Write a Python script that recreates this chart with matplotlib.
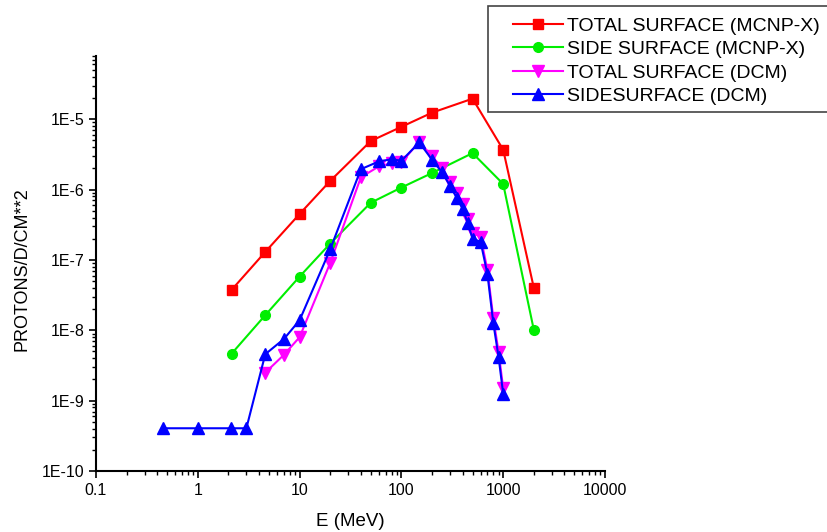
import matplotlib
matplotlib.use("Agg")
import matplotlib.pyplot as plt
from matplotlib.patches import Rectangle
from matplotlib.ticker import LogLocator, NullFormatter, FixedLocator, FixedFormatter

plt.rcParams['font.family'] = ['Liberation Sans', 'DejaVu Sans']

# TOTAL SURFACE (MCNP-X)
tot_mcnp_e = [2.15, 4.6, 10, 20, 50, 100, 200, 500, 1000, 2000]
tot_mcnp_v = [3.76e-8, 1.30e-7, 4.5e-7, 1.33e-6, 4.9e-6, 7.8e-6, 1.24e-5, 1.96e-5, 3.68e-6, 4.0e-8]

# SIDE SURFACE (MCNP-X)
side_mcnp_e = [2.15, 4.6, 10, 20, 50, 100, 200, 500, 1000, 2000]
side_mcnp_v = [4.66e-9, 1.64e-8, 5.8e-8, 1.71e-7, 6.5e-7, 1.07e-6, 1.72e-6, 3.3e-6, 1.2e-6, 1.01e-8]

# TOTAL SURFACE (DCM)
tot_dcm_e = [4.6, 7, 10, 20, 40, 60, 80, 100, 150, 200, 250, 300, 350, 400, 450, 500, 600, 700, 800, 900, 1000]
tot_dcm_v = [2.5e-9, 4.47e-9, 7.98e-9, 9.1e-8, 1.5e-6, 2.13e-6, 2.38e-6, 2.43e-6, 4.8e-6, 2.96e-6,
             2.06e-6, 1.30e-6, 8.9e-7, 6.2e-7, 3.85e-7, 2.4e-7, 2.15e-7, 7.2e-8, 1.49e-8, 4.98e-9, 1.5e-9]

# SIDESURFACE (DCM)
side_dcm_e = [0.457, 1, 2.14, 3.0, 4.6, 7, 10, 20, 40, 60, 80, 100, 150, 200, 250, 300, 350, 400, 450,
              500, 600, 700, 800, 900, 1000]
side_dcm_v = [4.05e-10, 4.05e-10, 4.05e-10, 4.05e-10, 4.57e-9, 7.5e-9, 1.39e-8, 1.42e-7, 1.95e-6, 2.51e-6,
              2.7e-6, 2.57e-6, 4.68e-6, 2.65e-6, 1.77e-6, 1.14e-6, 7.6e-7, 5.3e-7, 3.3e-7,
              2.0e-7, 1.81e-7, 6.3e-8, 1.26e-8, 4.2e-9, 1.25e-9]

x_ticks = [0.1, 1, 10, 100, 1000, 10000]
x_labels = ['0.1', '1', '10', '100', '1000', '10000']
y_ticks = [1e-10, 1e-9, 1e-8, 1e-7, 1e-6, 1e-5]
y_labels = ['1E-10', '1E-9', '1E-8', '1E-7', '1E-6', '1E-5']

fig = plt.figure(figsize=(8.28, 5.32), dpi=100)
ax = fig.add_axes([96/828, 1-471/532, (605-96)/828, (471-55.7)/532])

ax.plot(tot_mcnp_e, tot_mcnp_v, color='#ff0000', marker='s', ms=7, lw=1.5, label='TOTAL SURFACE (MCNP-X)')
ax.plot(side_mcnp_e, side_mcnp_v, color='#00ee00', marker='o', ms=7, lw=1.5, label='SIDE SURFACE (MCNP-X)')
ax.plot(tot_dcm_e, tot_dcm_v, color='#ff00ff', marker='v', ms=8, lw=1.5, label='TOTAL SURFACE (DCM)')
ax.plot(side_dcm_e, side_dcm_v, color='#0000ff', marker='^', ms=8, lw=1.5, label='SIDESURFACE (DCM)')

ax.set_xscale('log')
ax.set_yscale('log')
ax.set_xlim(0.1, 10000)
ax.set_ylim(1e-10, 8e-5)

ax.xaxis.set_major_locator(FixedLocator(x_ticks))
ax.xaxis.set_major_formatter(FixedFormatter(x_labels))
ax.yaxis.set_major_locator(FixedLocator(y_ticks))
ax.yaxis.set_major_formatter(FixedFormatter(y_labels))
ax.xaxis.set_minor_locator(LogLocator(base=10, subs=range(2, 10), numticks=20))
ax.yaxis.set_minor_locator(LogLocator(base=10, subs=range(2, 10), numticks=20))
ax.xaxis.set_minor_formatter(NullFormatter())
ax.yaxis.set_minor_formatter(NullFormatter())

for s in ['top', 'right']:
    ax.spines[s].set_visible(False)
for s in ['left', 'bottom']:
    ax.spines[s].set_linewidth(1.5)
ax.tick_params(which='major', direction='out', length=5, width=1.2, labelsize=11.5)
ax.tick_params(which='minor', direction='out', length=3, width=1.0)

ax.set_xlabel('E (MeV)', fontsize=13.5, labelpad=11)
ax.set_ylabel('PROTONS/D/CM**2', fontsize=13)
ax.yaxis.set_label_coords(-0.128, 0.485)

# legend frame (extends past the right edge like the original)
fig.patches.append(Rectangle((488/828, 1-112/532), 400/828, 106/532, transform=fig.transFigure,
                             facecolor='white', edgecolor='#444444', linewidth=1.2, zorder=5))
leg = fig.legend(loc='upper left', bbox_to_anchor=(513/828, 1-17/532), fontsize=14,
                 frameon=False, handlelength=2.55, borderpad=0.0,
                 labelspacing=0.3, handletextpad=0.25, borderaxespad=0)
leg.set_zorder(6)

fig.savefig('out.png', dpi=100)
